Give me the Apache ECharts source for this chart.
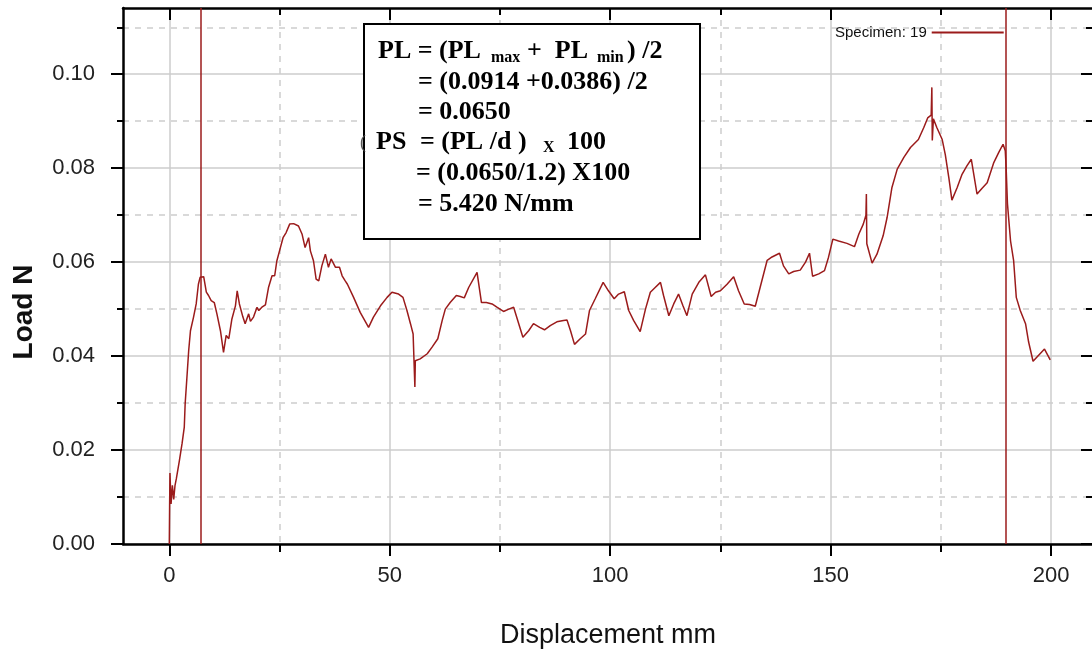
<!DOCTYPE html>
<html>
<head>
<meta charset="utf-8">
<title>Load vs displacement</title>
<script src="https://cdn.jsdelivr.net/npm/echarts@6/dist/echarts.min.js"></script>
<style>
  html, body { margin: 0; padding: 0; background: #fff; }
  #main { width: 1092px; height: 663px; }
</style>
</head>
<body>
<div id="main"></div>
<script>
// displacement (mm) and load (N)
var dispMm = [
  0.0, 0.07, 0.15, 0.4, 0.7, 1.0, 1.3, 1.6, 2.3, 2.9,
  3.4, 3.6, 4.0, 4.4, 4.8, 5.5, 6.1, 6.6, 7.0, 7.8,
  8.4, 8.9, 9.5, 10.2, 10.8, 11.6, 12.3, 12.9, 13.5, 14.2,
  15.0, 15.4, 15.9, 16.7, 17.2, 18.0, 18.4, 19.1, 19.9, 20.3,
  21.0, 21.8, 22.5, 23.3, 23.9, 24.4, 25.2, 25.8, 26.5, 27.3,
  28.2, 29.3, 30.1, 30.8, 31.6, 32.0, 32.7, 33.3, 33.9, 34.6,
  35.4, 36.1, 36.7, 37.7, 38.6, 39.2, 39.9, 40.4, 41.8, 43.3,
  45.2, 46.3, 47.9, 49.4, 50.5, 52.0, 53.0, 53.9, 54.7, 55.3,
  55.6, 55.7, 55.8, 56.9, 58.5, 59.6, 60.9, 61.9, 62.6, 63.7,
  65.1, 66.0, 66.9, 67.9, 69.8, 70.8, 71.9, 73.2, 74.3, 75.8,
  77.0, 78.1, 80.2, 81.5, 82.6, 84.0, 85.1, 86.4, 87.9, 89.4,
  90.2, 91.0, 91.9, 93.2, 94.4, 95.3, 96.6, 98.4, 99.6, 100.9,
  101.9, 103.2, 104.2, 105.3, 106.8, 108.0, 109.1, 110.2, 111.4, 112.1,
  113.3, 114.4, 115.5, 116.5, 117.4, 118.6, 120.1, 121.6, 122.9, 123.9,
  125.0, 126.5, 128.0, 129.1, 130.4, 131.6, 132.9, 134.0, 135.6, 136.7,
  138.4, 139.3, 140.5, 141.6, 143.1, 144.3, 145.2, 145.9, 147.3, 148.6,
  149.5, 150.5, 151.8, 153.7, 155.4, 156.4, 157.4, 158.0, 158.1, 158.2,
  158.4, 159.4, 160.5, 161.9, 162.8, 163.9, 165.1, 166.6, 168.1, 169.9,
  171.1, 172.0, 172.8, 172.95, 173.05, 173.3, 174.1, 175.3, 176.0, 176.8,
  177.5, 178.7, 179.8, 180.9, 181.9, 183.2, 184.3, 185.5, 187.0, 188.1,
  189.1, 189.4, 189.6, 189.8, 190.1, 190.8, 191.5, 192.1, 193.0, 194.2,
  194.9, 195.9, 196.8, 198.5, 199.8
];
var loadN = [
  0.0, 0.0079, 0.0151, 0.0085, 0.0125, 0.0095, 0.0125, 0.0139, 0.0178, 0.0214,
  0.0249, 0.0299, 0.0355, 0.0412, 0.0454, 0.0483, 0.0511, 0.0553, 0.0568, 0.0569,
  0.0536, 0.0529, 0.0518, 0.0514, 0.049, 0.0454, 0.0408, 0.0444, 0.0437, 0.0479,
  0.0507, 0.0539, 0.0511, 0.0483, 0.0469, 0.049, 0.0474, 0.0483, 0.0504, 0.0497,
  0.0504, 0.0509, 0.0546, 0.0571, 0.0571, 0.0603, 0.0631, 0.0652, 0.0663, 0.0681,
  0.0682, 0.0677, 0.066, 0.0631, 0.0652, 0.0624, 0.0603, 0.0564, 0.056, 0.0592,
  0.0617, 0.0589, 0.0607, 0.0589, 0.0589, 0.0571, 0.056, 0.0553, 0.0525, 0.0493,
  0.0461, 0.0483, 0.0507, 0.0525, 0.0536, 0.0532, 0.0525, 0.0497, 0.0469, 0.0447,
  0.0444, 0.0334, 0.039, 0.0394, 0.0405, 0.0419, 0.0437, 0.0476, 0.05, 0.0514,
  0.0529, 0.0527, 0.0524, 0.0546, 0.0578, 0.0514, 0.0514, 0.0511, 0.0504, 0.0495,
  0.05, 0.0504, 0.044, 0.0454, 0.0469, 0.0461, 0.0456, 0.0465, 0.0473, 0.0476,
  0.0477, 0.0454, 0.0425, 0.0437, 0.0447, 0.0497, 0.0522, 0.0557, 0.0539, 0.0522,
  0.0532, 0.0537, 0.0497, 0.0476, 0.0452, 0.05, 0.0536, 0.0546, 0.0557, 0.0529,
  0.0486, 0.0511, 0.0532, 0.0507, 0.0486, 0.0532, 0.0557, 0.0573, 0.0527, 0.0536,
  0.0539, 0.0553, 0.0569, 0.0539, 0.0511, 0.051, 0.0506, 0.0546, 0.0604, 0.0611,
  0.0619, 0.0592, 0.0575, 0.058, 0.0583, 0.06, 0.0619, 0.057, 0.0575, 0.0582,
  0.061, 0.0649, 0.0645, 0.064, 0.0633, 0.066, 0.0681, 0.07, 0.0745, 0.0639,
  0.0642, 0.0598, 0.0617, 0.0656, 0.0695, 0.0759, 0.0798, 0.0823, 0.0844, 0.0861,
  0.0886, 0.0907, 0.0913, 0.0972, 0.0859, 0.0905, 0.0886, 0.0861, 0.0829, 0.078,
  0.0732, 0.0759, 0.0787, 0.0805, 0.0819, 0.0745, 0.0757, 0.0769, 0.0812, 0.0833,
  0.0851, 0.0854, 0.0837, 0.0801, 0.0724, 0.0645, 0.0603, 0.0525, 0.0497, 0.0469,
  0.043, 0.0389, 0.0398, 0.0415, 0.0392
];
var cursorLines = [7.2, 189.6];       // vertical markers (mm)
var xTicks = [0, 50, 100, 150, 200];
var yTicks = [0, 0.02, 0.04, 0.06, 0.08, 0.10];
var seriesName = 'Specimen: 19';

var sans = '"Liberation Sans", Arial, sans-serif';
var serif = '"Liberation Serif", "Times New Roman", serif';
var red = '#9b1b1b';
var gridCol = '#cdcdcd';

var curve = dispMm.map(function (x, i) { return [x, loadN[i]]; });

// formula box lines
var boxText = [
  { x: 378, y: 51, t: 'PL = (PL', s: 26 },
  { x: 491, y: 58, t: 'max', s: 16 },
  { x: 527, y: 51, t: '+  PL', s: 26 },
  { x: 597, y: 58, t: 'min', s: 16 },
  { x: 627, y: 51, t: ') /2', s: 26 },
  { x: 418, y: 82, t: '= (0.0914 +0.0386) /2', s: 26 },
  { x: 418, y: 112, t: '= 0.0650', s: 26 },
  { x: 376, y: 142, t: 'PS', s: 26 },
  { x: 420, y: 142, t: '= (PL /d )', s: 26 },
  { x: 543, y: 148, t: 'X', s: 16 },
  { x: 567, y: 142, t: '100', s: 26 },
  { x: 416, y: 173, t: '= (0.0650/1.2) X100', s: 26 },
  { x: 418, y: 204, t: '= 5.420 N/mm', s: 26 }
];

var graphics = [{
  type: 'rect', z: 100,
  shape: { x: 364, y: 24, width: 336, height: 215 },
  style: { fill: '#fff', stroke: '#000', lineWidth: 2 }
}, {
  type: 'text', z: 101, x: 360, y: 143,
  style: { text: '(', font: '18px ' + serif, fill: '#555', verticalAlign: 'middle' }
}, {
  // y axis title
  type: 'text', z: 101, x: 24, y: 312, rotation: Math.PI / 2,
  style: { text: 'Load N', font: 'bold 28px ' + sans, fill: '#111', align: 'center', verticalAlign: 'middle' }
}];
boxText.forEach(function (b) {
  graphics.push({
    type: 'text', z: 101, x: b.x, y: b.y,
    style: { text: b.t, font: 'bold ' + b.s + 'px ' + serif, fill: '#000', verticalAlign: 'middle', align: 'left' }
  });
});

var dom = document.getElementById('main');
var myChart = echarts.init(dom, null, { renderer: 'canvas' });

var option = {
  animation: false,
  grid: { left: 123, right: -1, top: 8, bottom: 119, containLabel: false, outerBoundsMode: 'none' },
  legend: {
    data: [seriesName],
    left: 830, top: 20,
    icon: 'rect', itemWidth: 72, itemHeight: 2, align: 'right',
    textStyle: { fontFamily: sans, fontSize: 15, color: '#111' }
  },
  xAxis: [{
    type: 'value', min: -10.5, max: 209.5, splitNumber: 5,
    axisLine: { onZero: false, lineStyle: { color: '#000', width: 2.5 } },
    axisTick: { customValues: xTicks, length: 12, lineStyle: { color: '#000', width: 2 } },
    minorTick: { show: true, splitNumber: 2, length: 8, lineStyle: { color: '#000', width: 2 } },
    axisLabel: { customValues: xTicks, fontFamily: sans, fontSize: 22, color: '#222', margin: 21 },
    splitLine: { show: true, lineStyle: { color: gridCol, width: 1.5 } },
    minorSplitLine: { show: true, lineStyle: { color: gridCol, width: 1.5, type: [6, 6] } },
    name: 'Displacement mm', nameLocation: 'middle', nameGap: 78,
    nameTextStyle: { fontFamily: sans, fontSize: 27, color: '#111' }
  }, {
    type: 'value', position: 'top', min: -10.5, max: 209.5, splitNumber: 5,
    axisLine: { onZero: false, lineStyle: { color: '#000', width: 2.5 } },
    axisTick: { inside: true, customValues: xTicks, length: 12, lineStyle: { color: '#000', width: 2 } },
    minorTick: { show: true, splitNumber: 2, length: 7, lineStyle: { color: '#000', width: 2 } },
    axisLabel: { show: false },
    splitLine: { show: false }
  }],
  yAxis: [{
    type: 'value', min: 0, max: 0.1141, interval: 0.02,
    axisLine: { show: true, onZero: false, lineStyle: { color: '#000', width: 2.5 } },
    axisTick: { show: true, customValues: yTicks, length: 12, lineStyle: { color: '#000', width: 2 } },
    minorTick: { show: true, splitNumber: 2, length: 6, lineStyle: { color: '#000', width: 2 } },
    axisLabel: {
      customValues: yTicks, fontFamily: sans, fontSize: 22, color: '#222', margin: 28,
      formatter: function (v) { return v.toFixed(2); }
    },
    splitLine: { show: true, lineStyle: { color: gridCol, width: 1.5 } },
    minorSplitLine: { show: true, lineStyle: { color: gridCol, width: 1.5, type: [6, 6] } }
  }, {
    type: 'value', position: 'right', min: 0, max: 0.1141, interval: 0.02,
    axisLine: { show: true, onZero: false, lineStyle: { color: '#000', width: 2.5 } },
    axisTick: { show: true, inside: true, customValues: yTicks, length: 12, lineStyle: { color: '#000', width: 2 } },
    minorTick: { show: true, splitNumber: 2, length: 7, lineStyle: { color: '#000', width: 2 } },
    axisLabel: { show: false },
    splitLine: { show: false }
  }],
  series: [{
    name: seriesName,
    type: 'line',
    data: curve,
    symbol: 'none',
    color: red,
    lineStyle: { color: red, width: 1.5 },
    markLine: {
      silent: true, symbol: 'none', label: { show: false },
      lineStyle: { color: red, width: 1.5, type: 'solid' },
      data: cursorLines.map(function (v) { return { xAxis: v }; })
    }
  }],
  graphic: graphics
};

myChart.setOption(option);
window.addEventListener('resize', myChart.resize);
</script>
</body>
</html>
